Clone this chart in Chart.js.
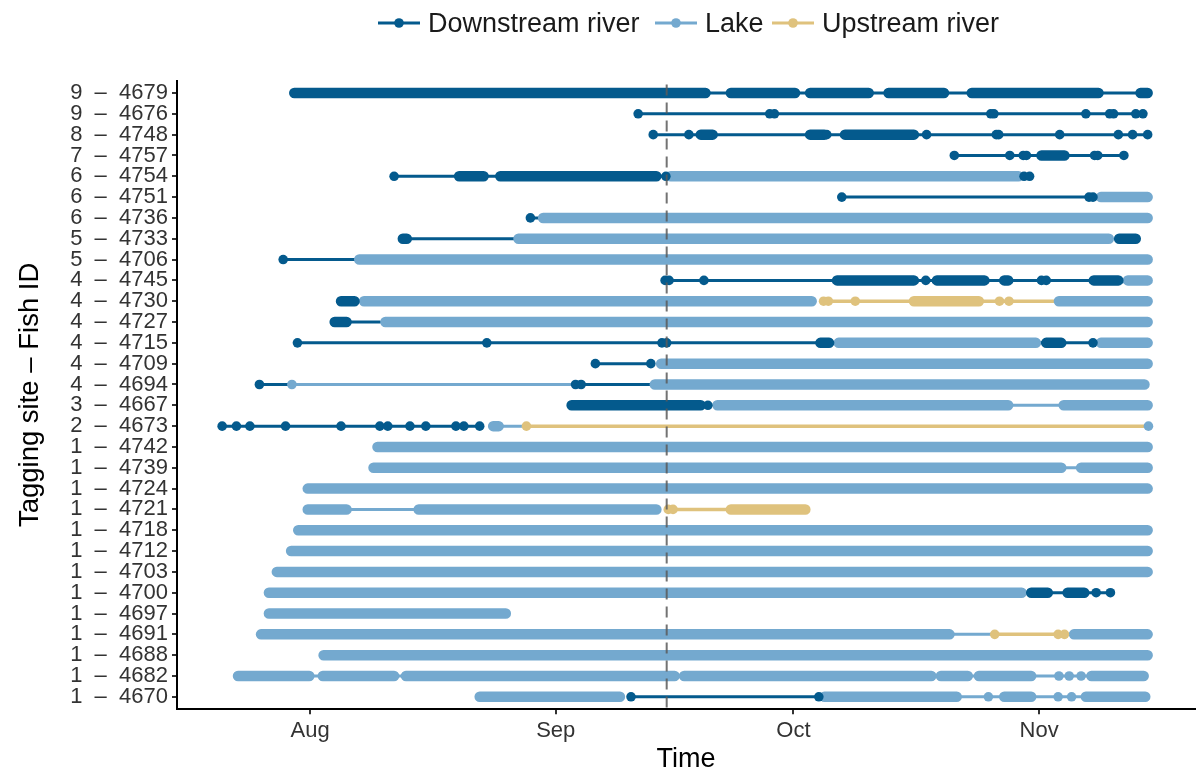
<!DOCTYPE html>
<html>
<head>
<meta charset="utf-8">
<script src="https://cdn.jsdelivr.net/npm/chart.js@4.4.1/dist/chart.umd.min.js"></script>
<style>
    body { margin: 0; background: #fff; font-family: "Liberation Sans", Arial, sans-serif; }
    #wrap { position: relative; width: 1200px; height: 774px; }
    #legend { position: absolute; left: 0; top: 6px; width: 1200px; height: 34px; font-size: 27px; color: #1a1a1a; }
    #legend .item { position: absolute; top: 0; display: flex; align-items: center; height: 34px; }
    #legend svg { margin-right: 8px; }
</style>
</head>
<body>
<div id="wrap">
    <canvas id="chart" width="1200" height="774"></canvas>
    <div id="legend"></div>
</div>
<script>
// rows, bottom to top
const fishIds = ['4670','4682','4688','4691','4697','4700','4703','4712','4718','4721','4724','4739','4742','4673','4667','4694','4709','4715','4727','4730','4745','4706','4733','4736','4751','4754','4757','4748','4676','4679'];
const tagSites = [1,1,1,1,1,1,1,1,1,1,1,1,1,2,3,4,4,4,4,4,4,5,5,6,6,6,7,8,9,9];

// days since 1 Aug
const monthTicks = [0, 31, 61, 92];
const monthLabels = ['Aug', 'Sep', 'Oct', 'Nov'];
const tagDay = 45;

const habitats = ['Downstream river', 'Lake', 'Upstream river'];
const habColors = ['#045a8d', '#74a9cf', '#dfc27d'];
const legendLeft = [378, 655, 772];

// dense detection runs [fish, from, to]
const downBars = [
    ['4679', -2.0, 49.9], ['4679', 53.1, 61.2], ['4679', 63.1, 70.5], ['4679', 73.0, 80.0], ['4679', 83.5, 99.5], ['4679', 104.8, 105.7],
    ['4748', 49.3, 50.8], ['4748', 63.1, 64.9], ['4748', 67.5, 76.2],
    ['4757', 92.3, 95.2],
    ['4754', 18.8, 21.9], ['4754', 24.0, 43.7],
    ['4733', 11.7, 12.2], ['4733', 102.1, 104.2],
    ['4745', 66.5, 76.2], ['4745', 79.1, 85.1], ['4745', 87.6, 88.1], ['4745', 98.9, 102.0],
    ['4730', 3.9, 5.6],
    ['4727', 3.1, 4.6],
    ['4715', 64.4, 65.5], ['4715', 92.9, 94.8],
    ['4667', 33.0, 49.3],
    ['4700', 91.0, 93.1], ['4700', 95.6, 97.7]
];
const lakeBars = [
    ['4754', 45.5, 89.4], ['4751', 99.8, 105.7], ['4736', 29.4, 105.7], ['4733', 26.3, 100.8], ['4706', 6.2, 105.7],
    ['4745', 103.2, 105.7], ['4730', 6.8, 63.3], ['4730', 94.5, 105.7], ['4727', 9.5, 105.7],
    ['4715', 66.7, 91.6], ['4715', 99.8, 105.7], ['4709', 44.3, 105.7], ['4694', 43.5, 105.3],
    ['4667', 51.4, 88.1], ['4667', 95.1, 105.7], ['4673', 23.1, 23.8], ['4742', 8.5, 105.7],
    ['4739', 8.0, 94.8], ['4739', 97.3, 105.7], ['4724', -0.3, 105.7], ['4721', -0.3, 4.6], ['4721', 13.7, 43.7],
    ['4718', -1.5, 105.7], ['4712', -2.4, 105.7], ['4703', -4.2, 105.7], ['4700', -5.2, 89.8], ['4697', -5.2, 24.7],
    ['4691', -6.2, 80.7], ['4691', 96.4, 105.7], ['4688', 1.7, 105.7],
    ['4682', -9.1, -0.1], ['4682', 1.6, 10.6], ['4682', 12.1, 46.0], ['4682', 47.2, 78.4], ['4682', 79.6, 83.0], ['4682', 84.4, 91.0], ['4682', 98.6, 105.2],
    ['4670', 21.4, 39.1], ['4670', 64.9, 81.6], ['4670', 87.6, 91.0], ['4670', 97.9, 105.4]
];
const upBars = [['4730', 76.2, 84.4], ['4721', 53.1, 62.5]];

// thin track lines [fish, from, to]
const downLines = [
    ['4679', -2.0, 105.7], ['4676', 41.4, 105.1], ['4748', 43.3, 105.7], ['4757', 81.3, 102.7],
    ['4754', 10.6, 44.9], ['4751', 67.1, 98.8], ['4736', 27.8, 29.4], ['4733', 12.2, 25.7], ['4706', -3.4, 5.6],
    ['4745', 45.0, 102.0], ['4727', 4.6, 8.8], ['4715', -1.6, 98.8], ['4709', 36.0, 43.0],
    ['4694', -6.4, -2.3], ['4694', 34.2, 42.9], ['4673', -11.1, 21.4], ['4670', 40.5, 64.2], ['4700', 93.1, 101.0]
];
const lakeLines = [
    ['4694', -2.3, 33.2], ['4667', 88.1, 95.1], ['4673', 23.8, 27.3], ['4739', 94.8, 97.3], ['4721', 4.6, 13.7],
    ['4691', 80.7, 86.4], ['4682', -9.1, 105.2], ['4670', 81.6, 97.9]
];
const upLines = [['4730', 64.8, 93.9], ['4673', 27.3, 105.5], ['4721', 45.2, 53.1], ['4691', 86.4, 95.2]];

// single detections [fish, day]
const downPoints = [
    ['4676', 41.4], ['4676', 58.0], ['4676', 58.6], ['4676', 85.9], ['4676', 86.3], ['4676', 97.9], ['4676', 100.9], ['4676', 101.4], ['4676', 104.2], ['4676', 105.1],
    ['4748', 43.3], ['4748', 47.8], ['4748', 65.2], ['4748', 77.8], ['4748', 86.6], ['4748', 86.9], ['4748', 94.6], ['4748', 102.0], ['4748', 103.8], ['4748', 105.7],
    ['4757', 81.3], ['4757', 88.3], ['4757', 90.0], ['4757', 90.4], ['4757', 99.0], ['4757', 99.4], ['4757', 102.7],
    ['4754', 10.6], ['4754', 44.9], ['4754', 90.1], ['4754', 90.8],
    ['4751', 67.1], ['4751', 98.3], ['4751', 98.8],
    ['4736', 27.8], ['4706', -3.4],
    ['4745', 44.8], ['4745', 45.3], ['4745', 49.7], ['4745', 77.7], ['4745', 92.3], ['4745', 92.9],
    ['4715', -1.6], ['4715', 22.3], ['4715', 44.4], ['4715', 45.0], ['4715', 98.8],
    ['4709', 36.0], ['4709', 43.0],
    ['4694', -6.4], ['4694', 33.5], ['4694', 34.2],
    ['4667', 50.2],
    ['4673', -11.1], ['4673', -9.3], ['4673', -7.6], ['4673', -3.1], ['4673', 3.9], ['4673', 8.8], ['4673', 9.8], ['4673', 12.6], ['4673', 14.6], ['4673', 18.4], ['4673', 19.4], ['4673', 21.4],
    ['4700', 99.2], ['4700', 101.0],
    ['4670', 40.5], ['4670', 64.2]
];
const lakePoints = [
    ['4694', -2.3], ['4673', 105.8], ['4682', 94.5], ['4682', 95.8], ['4682', 97.3],
    ['4670', 85.6], ['4670', 94.4], ['4670', 96.1]
];
const upPoints = [
    ['4730', 64.8], ['4730', 65.4], ['4730', 68.8], ['4730', 87.0], ['4730', 88.2],
    ['4673', 27.3], ['4721', 45.2], ['4721', 45.8], ['4691', 86.4], ['4691', 94.4], ['4691', 95.2]
];

const row = (id) => fishIds.indexOf(id);

function spans(list) {
    const pts = [];
    list.forEach(([id, a, b]) => { pts.push({ x: a, y: row(id) }, { x: b, y: row(id) }, { x: b, y: null }); });
    return pts;
}
const dots = (list) => list.map(([id, d]) => ({ x: d, y: row(id) }));

function lineSet(list, color, width, order) {
    return { data: spans(list), borderColor: color, borderWidth: width, borderCapStyle: 'round', borderJoinStyle: 'round',
             pointRadius: 0, spanGaps: false, fill: false, order: order };
}
function pointSet(list, color) {
    return { data: dots(list), showLine: false, pointRadius: 4.8, pointBorderWidth: 0, pointBackgroundColor: color, order: 1 };
}

const datasets = [
    pointSet(downPoints, habColors[0]), pointSet(lakePoints, habColors[1]), pointSet(upPoints, habColors[2]),
    lineSet(downBars, habColors[0], 10.5, 2), lineSet(lakeBars, habColors[1], 10.5, 2), lineSet(upBars, habColors[2], 10.5, 2),
    lineSet(downLines, habColors[0], 3, 3), lineSet(lakeLines, habColors[1], 3, 3), lineSet(upLines, habColors[2], 3.5, 3)
];

const refLine = {
    id: 'refLine',
    afterDatasetsDraw(chart) {
        const { ctx, chartArea, scales: { x } } = chart;
        const px = x.getPixelForValue(tagDay);
        ctx.save();
        ctx.strokeStyle = 'rgba(90,90,90,0.85)';
        ctx.lineWidth = 2;
        ctx.setLineDash([11, 7]);
        ctx.beginPath(); ctx.moveTo(px, chartArea.top + 4); ctx.lineTo(px, chartArea.bottom); ctx.stroke();
        ctx.restore();
    }
};

Chart.defaults.font.family = '"Liberation Sans", Arial, sans-serif';

new Chart(document.getElementById('chart'), {
    type: 'line',
    data: { datasets: datasets },
    plugins: [refLine],
    options: {
        responsive: false, animation: false, events: [],
        layout: { padding: { top: 80.5, left: 0, right: 0, bottom: 0 } },
        plugins: { legend: { display: false }, tooltip: { enabled: false } },
        scales: {
            x: {
                type: 'linear', min: -16.8, max: 111.7,
                afterBuildTicks: s => { s.ticks = monthTicks.map(v => ({ value: v })); },
                afterFit: s => { s.height = 64.7; },
                ticks: { callback: v => monthLabels[monthTicks.indexOf(v)], color: '#333', font: { size: 22 }, padding: 3, maxRotation: 0 },
                grid: { drawOnChartArea: false, tickLength: 5, color: '#333', lineWidth: 2 },
                border: { color: '#000', width: 2 },
                title: { display: true, text: 'Time', color: '#000', font: { size: 27 }, padding: { top: 0, bottom: -2 } }
            },
            y: {
                type: 'linear', min: -0.6, max: 29.6,
                afterBuildTicks: s => { s.ticks = fishIds.map((_, i) => ({ value: i })); },
                afterFit: s => { s.width = 177; },
                ticks: { callback: v => tagSites[v] + '  \u2013  ' + fishIds[v], color: '#333', font: { size: 22 }, padding: 4, autoSkip: false },
                grid: { drawOnChartArea: false, tickLength: 5, color: '#333', lineWidth: 2 },
                border: { color: '#000', width: 2 },
                title: { display: true, text: 'Tagging site \u2013 Fish ID', color: '#000', font: { size: 27.5 }, padding: { top: 14, bottom: 0 } }
            }
        }
    }
});

// legend
const legend = document.getElementById('legend');
habitats.forEach((name, i) => {
    const item = document.createElement('div');
    item.className = 'item';
    item.style.left = legendLeft[i] + 'px';
    item.innerHTML = `<svg width="42" height="14"><line x1="0" y1="7" x2="42" y2="7" stroke="${habColors[i]}" stroke-width="3"/><circle cx="21" cy="7" r="4.8" fill="${habColors[i]}"/></svg><span>${name}</span>`;
    legend.appendChild(item);
});
</script>
</body>
</html>
